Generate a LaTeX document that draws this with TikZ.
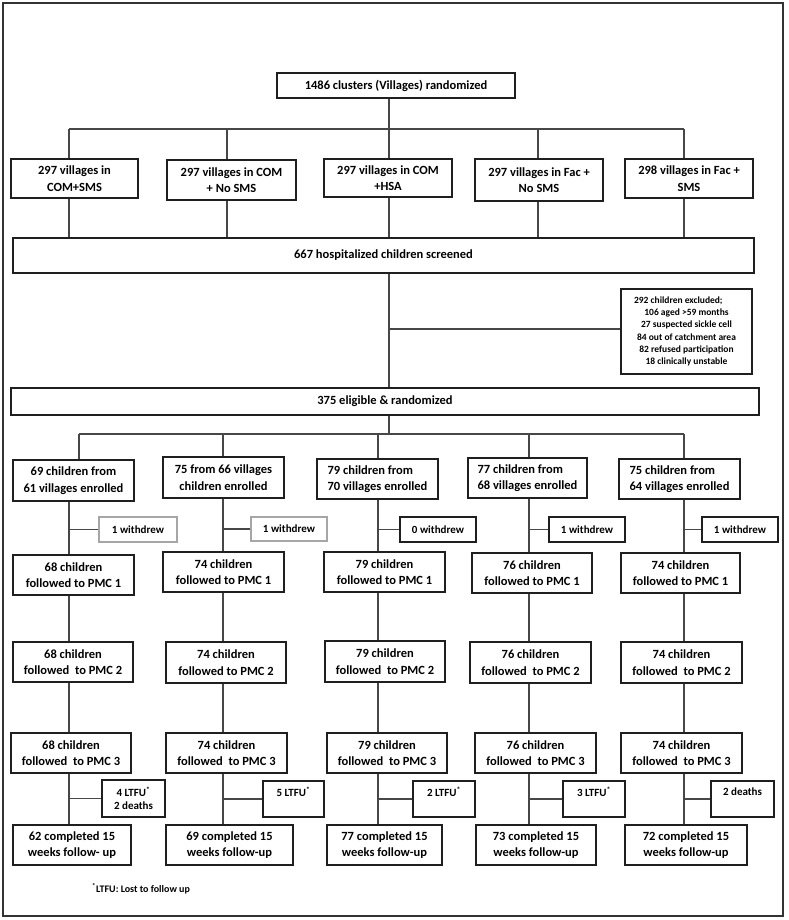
\documentclass[tikz,border=0pt]{standalone}
\usepackage{fontspec}
\setmainfont{Carlito}
\newcommand\bx[7][]{\node[box,minimum width={(#5-#3)*1pt},minimum height={(#6-#4)*1pt},#1] (#2) at ({(#3+#5)/2},{(#4+#6)/2}) {#7};}
\begin{document}
\begin{tikzpicture}[x=1pt,y=-1pt,
  box/.style={draw=black!88,line width=1.1pt,inner sep=0pt,align=center,text=black,
    font=\bfseries\fontsize{12.5}{16.5}\selectfont},
  small/.style={font=\bfseries\fontsize{11}{13}\selectfont},
  ln/.style={draw=black!72,line width=1.1pt},
  frame/.style={draw=black!80,line width=1.2pt}]
\useasboundingbox (0,0) rectangle (788,920);
\draw[frame] (3,3) rectangle (783,916);
% top
\bx{top}{277}{73}{515}{98}{1486 clusters (Villages) randomized}
\bx{a1}{11}{159}{138}{198}{297 villages in\\COM+SMS}
\bx{a2}{167}{160}{296}{200}{297 villages in COM\\+ No SMS}
\bx{a3}{324}{159}{452}{197}{297 villages in COM\\+HSA}
\bx{a4}{475}{159}{603}{201}{297 villages in Fac +\\No SMS}
\bx{a5}{625}{159}{753}{198}{298 villages in Fac +\\SMS}
\bx{scr}{13}{238}{754}{273}{667 hospitalized children screened}
\bx[font=\bfseries\fontsize{9.5}{12.3}\selectfont]{excl}{621}{289}{752}{374}{\begin{tabular}{@{}c@{}}\multicolumn{1}{@{}l@{}}{\hspace{-3pt}292 children excluded;}\\106 aged >59 months\\27 suspected sickle cell\\84 out of catchment area\\82 refused participation\\18 clinically unstable\end{tabular}}
\bx{elig}{11}{388}{759}{415}{375 eligible \& randomized}
% enrolled
\bx{e1}{13}{460}{134}{501}{69 children from\\61 villages enrolled}
\bx{e2}{163}{457}{284}{498}{75 from 66 villages\\children enrolled}
\bx[align=left]{e3}{317}{459}{438}{499}{79 children from\\70 villages enrolled}
\bx[align=left]{e4}{468}{458}{587}{498}{77 children from\\68 villages enrolled}
\bx[align=left]{e5}{619}{459}{740}{499}{75 children from\\64 villages enrolled}
% withdrew
\bx[small,draw=black!35]{w1}{99}{517}{177}{542}{1 withdrew}
\bx[small,draw=black!35]{w2}{251}{517}{327}{541}{1 withdrew}
\bx[small]{w3}{400}{517}{476}{542}{0 withdrew}
\bx[small]{w4}{549}{517}{625}{542}{1 withdrew}
\bx[small]{w5}{702}{517}{778}{542}{1 withdrew}
% PMC1
\bx{p1}{13}{555}{134}{595}{68 children\\followed to PMC 1}
\bx{p2}{163}{552}{284}{592}{74 children\\followed to PMC 1}
\bx{p3}{324}{552}{445}{592}{79 children\\followed to PMC 1}
\bx{p4}{472}{553}{592}{593}{76 children\\followed to PMC 1}
\bx{p5}{621}{553}{740}{593}{74 children\\followed to PMC 1}
% PMC2
\bx{q1}{13}{642}{133}{682}{68 children\\followed\ \ to PMC 2}
\bx{q2}{166}{642}{286}{683}{74 children\\followed to PMC 2}
\bx{q3}{325}{641}{445}{682}{79 children\\followed\ \ to PMC 2}
\bx{q4}{470}{642}{591}{683}{76 children\\followed\ \ to PMC 2}
\bx{q5}{621}{642}{742}{683}{74 children\\followed\ \ to PMC 2}
% PMC3
\bx{r1}{11}{733}{131}{773}{68 children\\followed\ \ to PMC 3}
\bx{r2}{166}{733}{287}{773}{74 children\\followed\ \ to PMC 3}
\bx{r3}{327}{733}{447}{773}{79 children\\followed\ \ to PMC 3}
\bx{r4}{475}{733}{596}{773}{76 children\\followed\ \ to PMC 3}
\bx{r5}{621}{733}{742}{773}{74 children\\followed\ \ to PMC 3}
% LTFU
\bx[small]{l1}{102}{780}{165}{817}{4 LTFU\textsuperscript{*}\\2 deaths}
\bx[small]{l2}{263}{781}{324}{817}{\raisebox{3pt}[0pt][0pt]{5 LTFU\textsuperscript{*}}}
\bx[small]{l3}{413}{781}{475}{817}{\raisebox{3pt}[0pt][0pt]{2 LTFU\textsuperscript{*}}}
\bx[small]{l4}{563}{781}{625}{817}{\raisebox{3pt}[0pt][0pt]{3 LTFU\textsuperscript{*}}}
\bx[small]{l5}{711}{781}{774}{817}{\raisebox{4pt}[0pt][0pt]{2 deaths}}
% completed
\bx{m1}{13}{825}{131}{865}{62 completed 15\\weeks follow- up}
\bx{m2}{166}{825}{293}{865}{69 completed 15\\weeks follow-up}
\bx{m3}{327}{825}{442}{865}{77 completed 15\\weeks follow-up}
\bx{m4}{476}{825}{596}{865}{73 completed 15\\weeks follow-up}
\bx{m5}{625}{825}{747}{865}{72 completed 15\\weeks follow-up}
\node[anchor=west,inner sep=0pt,text=black,font=\bfseries\fontsize{10}{12}\selectfont] (fn) at (92,889) {\textsuperscript{*}LTFU: Lost to follow up};
% junction coordinates
\coordinate (j1) at (389,129);
\coordinate (h1a) at (69,129);
\coordinate (h1b) at (227,129);
\coordinate (h1d) at (538,129);
\coordinate (h1e) at (684,129);
\coordinate (j2) at (389,329);
\coordinate (j3) at (389,434);
\coordinate (h3a) at (79,434);
\coordinate (h3b) at (223,434);
\coordinate (h3c) at (378,434);
\coordinate (h3d) at (529,434);
\coordinate (h3e) at (684,434);
\coordinate (c1) at (69,0);
\coordinate (c2) at (223,0);
\coordinate (c3) at (378,0);
\coordinate (c4) at (529,0);
\coordinate (c5) at (684,0);
% connectors top part
\draw[ln] (top.south -| j1) -- (j1);
\draw[ln] (h1a) -- (h1e);
\foreach \b/\h in {a1/h1a,a2/h1b,a3/j1,a4/h1d,a5/h1e}{
  \draw[ln] (\h) -- (\b.north -| \h);
  \draw[ln] (\b.south -| \h) -- (scr.north -| \h);
}
\draw[ln] (scr.south -| j2) -- (elig.north -| j2);
\draw[ln] (j2) -- (j2 -| excl.west);
\draw[ln] (elig.south -| j3) -- (j3);
\draw[ln] (h3a) -- (h3e);
\foreach \e/\h in {e1/h3a,e2/h3b,e3/h3c,e4/h3d,e5/h3e}{
  \draw[ln] (\h) -- (\e.north -| \h);
}
% columns
\foreach \i in {1,...,5}{
  \draw[ln] (e\i.south -| c\i) -- (p\i.north -| c\i);
  \draw[ln] (w\i.west -| c\i) -- (w\i.west);
  \draw[ln] (p\i.south -| c\i) -- (q\i.north -| c\i);
  \draw[ln] (q\i.south -| c\i) -- (r\i.north -| c\i);
  \draw[ln] (r\i.south -| c\i) -- (m\i.north -| c\i);
  \draw[ln] (l\i.west -| c\i) -- (l\i.west);
}
\end{tikzpicture}
\end{document}
